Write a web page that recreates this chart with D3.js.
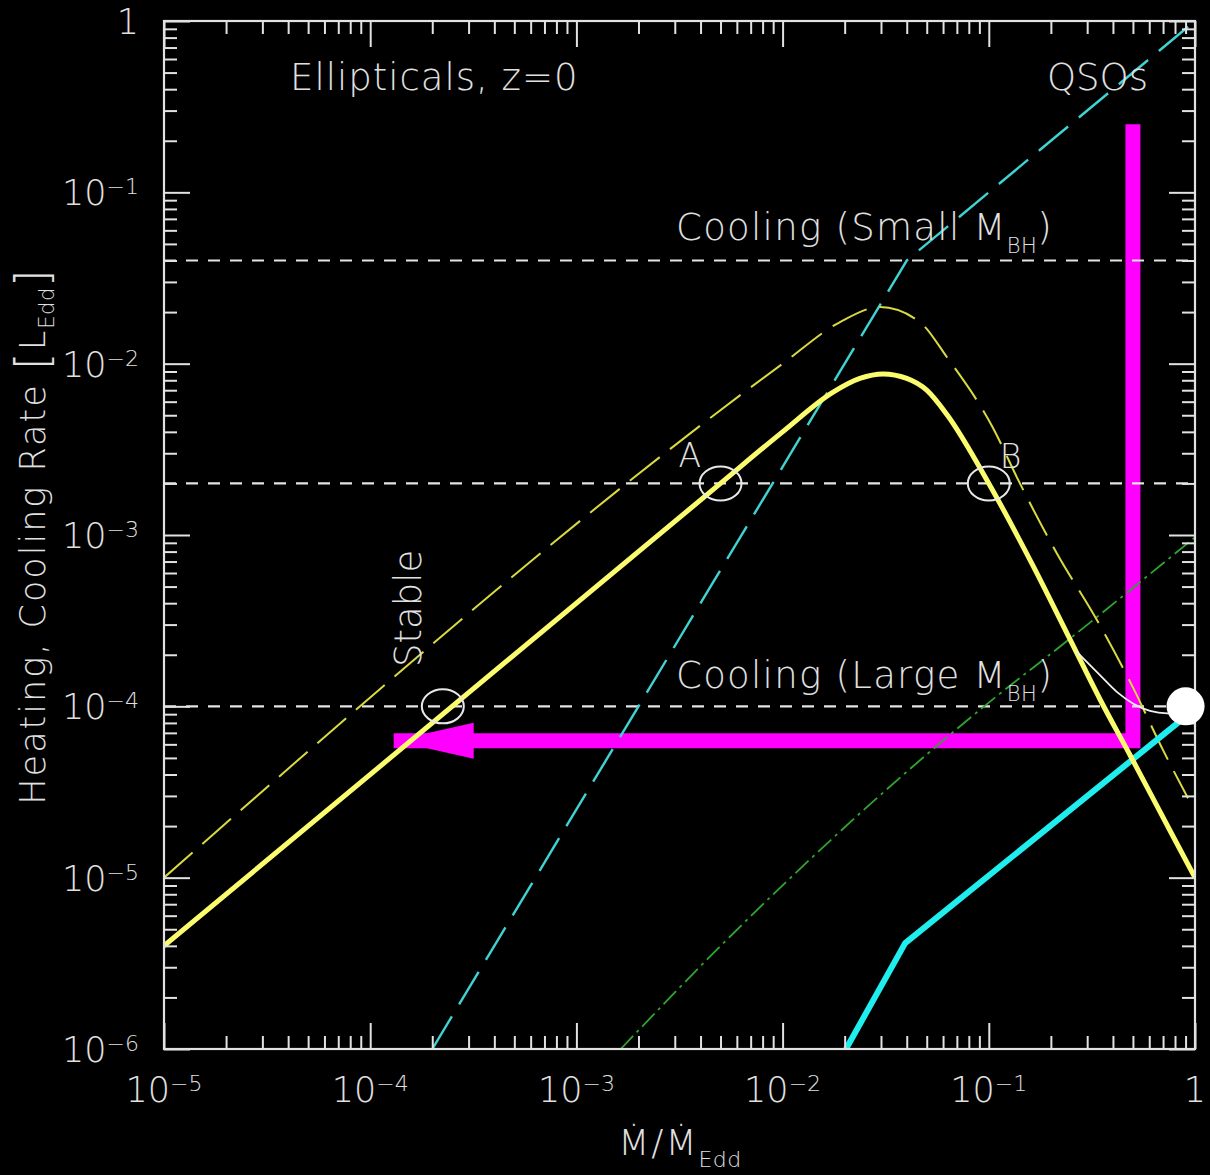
<!DOCTYPE html>
<html>
<head>
<meta charset="utf-8">
<script src="https://cdn.jsdelivr.net/npm/d3@7"></script>
<style>
  html, body { margin: 0; padding: 0; background: #000; }
  svg { display: block; background: #000; }
  text { font-family: "DejaVu Sans", sans-serif; font-weight: 200; fill: #e0e0e0; }
</style>
</head>
<body>
<svg id="chart" width="1210" height="1175"></svg>
<script>
// ---- tick labels (base, exponent) ----
const xTickValues = [1e-5, 1e-4, 1e-3, 1e-2, 1e-1, 1];
const xTickLabels = [["10", "−5"], ["10", "−4"], ["10", "−3"], ["10", "−2"], ["10", "−1"], ["1", ""]];
const yTickValues = [1e-6, 1e-5, 1e-4, 1e-3, 1e-2, 1e-1, 1];
const yTickLabels = [["10", "−6"], ["10", "−5"], ["10", "−4"], ["10", "−3"], ["10", "−2"], ["10", "−1"], ["1", ""]];

// ---- cooling rates (horizontal dashed levels) ----
const coolingLevels = [4e-2, 2e-3, 1e-4];

// ---- heating rate (thick solid yellow) ----
const heatingX = [1e-5, 5e-3, 1e-2, 1.75e-2, 2.37e-2, 3.07e-2, 4.0e-2, 5.0e-2, 6.3e-2, 0.1, 0.164, 0.248, 0.346, 0.484, 0.781, 1];
const heatingY = [4e-6, 2e-3, 4.0e-3, 6.8e-3, 8.2e-3, 8.7e-3, 8.2e-3, 7.0e-3, 5.0e-3, 2.0e-3, 6.6e-4, 2.45e-4, 1.1e-4, 5.2e-5, 1.75e-5, 1.0e-5];

// ---- maximal heating rate (thin dashed yellow) ----
const heatingMaxX = [1e-5, 1e-2, 1.9e-2, 2.97e-2, 4.63e-2, 6.27e-2, 0.105, 0.139, 0.214, 0.335, 0.5, 0.70, 0.925];
const heatingMaxY = [1e-5, 1e-2, 1.75e-2, 2.14e-2, 1.75e-2, 1.09e-2, 4.2e-3, 2.09e-3, 7.8e-4, 3.18e-4, 1.29e-4, 5.55e-5, 2.91e-5];

// ---- transition branch (thin white) ----
const branchX = [0.265, 0.346, 0.419, 0.5, 0.605, 0.732, 0.9];
const branchY = [2.1e-4, 1.52e-4, 1.21e-4, 1.04e-4, 9.4e-5, 9.1e-5, 9.3e-5];

// ---- QSO radiative output (dashed cyan) ----
const qsoX = [2e-4, 0.04, 1];
const qsoY = [1e-6, 0.04, 1];

// ---- thick cyan ----
const cyanX = [0.0203, 0.0393, 0.9];
const cyanY = [1e-6, 4.15e-6, 8.7e-5];

// ---- dash-dot green ----
const greenX = [1.64e-3, 4.8e-3, 0.094, 0.242, 1];
const greenY = [1e-6, 3.8e-6, 9.9e-5, 2.43e-4, 9.7e-4];

// ---- equilibrium markers ----
const markerX = [2.25e-4, 5e-3, 0.1];
const markerY = [1e-4, 2e-3, 2e-3];
const markerNames = ["", "A", "B"];

// ---- evolutionary track (magenta arrow) ----
const trackX = [0.5, 0.5, 1.3e-4];
const trackY = [0.25, 6.3e-5, 6.3e-5];

// ---- current state (white dot) ----
const stateX = [0.9];
const stateY = [1e-4];

// ================= drawing =================
const svg = d3.select("#chart");
const L = 164, R = 1195, T = 21, B = 1049;

const x = d3.scaleLog().domain([1e-5, 1]).range([L, R]);
const y = d3.scaleLog().domain([1e-6, 1]).range([B, T]);

const zip = (xs, ys) => xs.map((v, i) => [v, ys[i]]);
const line = d3.line().x(d => x(d[0])).y(d => y(d[1]));
const smooth = d3.line().x(d => x(d[0])).y(d => y(d[1])).curve(d3.curveMonotoneX);

svg.append("defs").append("clipPath").attr("id", "plot")
  .append("rect").attr("x", L).attr("y", T).attr("width", R - L).attr("height", B - T);

const plot = svg.append("g").attr("clip-path", "url(#plot)");

// magenta track sits beneath every curve
plot.append("path")
  .attr("d", line(zip(trackX, trackY)))
  .attr("fill", "none").attr("stroke", "#ff00ff").attr("stroke-width", 15)
  .attr("stroke-linejoin", "miter").attr("stroke-linecap", "butt");
{
  const tip = [x(trackX[2]), y(trackY[2])];
  const headLen = 80, headHalf = 18;
  plot.append("path")
    .attr("d", `M${tip[0]},${tip[1]}L${tip[0] + headLen},${tip[1] - headHalf}L${tip[0] + headLen},${tip[1] + headHalf}Z`)
    .attr("fill", "#ff00ff");
}

// cooling levels
plot.selectAll("line.cool").data(coolingLevels).join("line")
  .attr("class", "cool")
  .attr("x1", L).attr("x2", R)
  .attr("y1", d => y(d)).attr("y2", d => y(d))
  .attr("stroke", "#e4e4e4").attr("stroke-width", 2.2)
  .attr("stroke-dasharray", "12,10");

// green dash-dot
plot.append("path").attr("d", smooth(zip(greenX, greenY)))
  .attr("fill", "none").attr("stroke", "#2fa52f").attr("stroke-width", 1.8)
  .attr("stroke-dasharray", "18,5,3,5");

// dashed cyan
plot.append("path").attr("d", line(zip(qsoX, qsoY)))
  .attr("fill", "none").attr("stroke", "#3fd3d3").attr("stroke-width", 2.4)
  .attr("stroke-dasharray", "38,14");

// dashed yellow
plot.append("path").attr("d", smooth(zip(heatingMaxX, heatingMaxY)))
  .attr("fill", "none").attr("stroke", "#d9d940").attr("stroke-width", 2)
  .attr("stroke-dasharray", "38,13");

// thick cyan
plot.append("path").attr("d", line(zip(cyanX, cyanY)))
  .attr("fill", "none").attr("stroke", "#20eeee").attr("stroke-width", 6)
  .attr("stroke-linejoin", "round");

// thick yellow heating curve
plot.append("path").attr("d", smooth(zip(heatingX, heatingY)))
  .attr("fill", "none").attr("stroke", "#fbfb6e").attr("stroke-width", 5);

// white branch
plot.append("path").attr("d", smooth(zip(branchX, branchY)))
  .attr("fill", "none").attr("stroke", "#f0f0f0").attr("stroke-width", 1.8);

// equilibrium rings
plot.selectAll("ellipse.eq").data(zip(markerX, markerY)).join("ellipse")
  .attr("class", "eq")
  .attr("cx", d => x(d[0])).attr("cy", d => y(d[1]))
  .attr("rx", 21).attr("ry", 17)
  .attr("fill", "none").attr("stroke", "#e8e8e8").attr("stroke-width", 2);

// marker letters
const letterOffset = [[0, 0], [-42, -16], [11, -15]];
markerNames.forEach((n, i) => {
  if (!n) return;
  svg.append("text")
    .attr("x", x(markerX[i]) + letterOffset[i][0])
    .attr("y", y(markerY[i]) + letterOffset[i][1])
    .attr("font-size", 33).text(n);
});

// ---- frame and ticks ----
const tickColor = "#e2e2e2";
const majorX = xTickValues, majorY = yTickValues;
const minorX = x.ticks().filter(v => !majorX.some(m => Math.abs(m - v) / m < 1e-6));
const minorY = y.ticks().filter(v => !majorY.some(m => Math.abs(m - v) / m < 1e-6));

function axisLayer(axisFn, scale, vals, size, tx, ty) {
  const g = svg.append("g").attr("transform", `translate(${tx},${ty})`)
    .call(axisFn(scale).tickValues(vals).tickSize(-size).tickFormat(""));
  g.select(".domain").remove();
  g.selectAll(".tick line").attr("stroke", tickColor).attr("stroke-width", 2);
}
[[majorX, 26], [minorX, 13]].forEach(([v, s]) => {
  axisLayer(d3.axisBottom, x, v, s, 0, B);
  axisLayer(d3.axisTop, x, v, s, 0, T);
});
[[majorY, 26], [minorY, 13]].forEach(([v, s]) => {
  axisLayer(d3.axisLeft, y, v, s, L, 0);
  axisLayer(d3.axisRight, y, v, s, R, 0);
});

svg.append("rect").attr("x", L).attr("y", T).attr("width", R - L).attr("height", B - T)
  .attr("fill", "none").attr("stroke", tickColor).attr("stroke-width", 2.2);

// white dot, drawn over the frame
svg.selectAll("circle.state").data(zip(stateX, stateY)).join("circle")
  .attr("class", "state")
  .attr("cx", d => x(d[0])).attr("cy", d => y(d[1])).attr("r", 19)
  .attr("fill", "#ffffff");

// tick labels
xTickValues.forEach((v, i) => {
  const t = svg.append("text").attr("x", x(v)).attr("y", 1102)
    .attr("text-anchor", "middle").attr("font-size", 35);
  t.append("tspan").text(xTickLabels[i][0]);
  if (xTickLabels[i][1]) t.append("tspan").attr("dy", -11).attr("font-size", 22).text(xTickLabels[i][1]);
});
yTickValues.forEach((v, i) => {
  const t = svg.append("text").attr("x", 139).attr("y", y(v) + 13)
    .attr("text-anchor", "end").attr("font-size", 35);
  t.append("tspan").text(yTickLabels[i][0]);
  if (yTickLabels[i][1]) t.append("tspan").attr("dy", -11).attr("font-size", 22).text(yTickLabels[i][1]);
});

// ---- annotations ----
svg.append("text").attr("x", 290).attr("y", 90).attr("font-size", 37)
  .attr("letter-spacing", 1).text("Ellipticals, z=0");
svg.append("text").attr("x", 1047).attr("y", 90).attr("font-size", 37).text("QSOs");

function coolingLabel(yb, word) {
  const t = svg.append("text").attr("x", 676).attr("y", yb).attr("font-size", 37)
    .attr("letter-spacing", 1.3);
  t.append("tspan").text(`Cooling (${word} M`);
  t.append("tspan").attr("dy", 13).attr("font-size", 21).attr("letter-spacing", 0.5).text("BH");
  t.append("tspan").attr("dy", -13).text(")");
}
coolingLabel(240, "Small");
coolingLabel(688, "Large");

svg.append("text").attr("transform", "translate(421,667) rotate(-90)")
  .attr("font-size", 37).text("Stable");

// axis titles
{
  const t = svg.append("text").attr("transform", "translate(45,536) rotate(-90)")
    .attr("text-anchor", "middle").attr("font-size", 35).attr("letter-spacing", 2);
  t.append("tspan").text("Heating, Cooling Rate ");
  t.append("tspan").attr("font-size", 46).attr("dy", 3).text("[");
  t.append("tspan").attr("dy", -3).text("L");
  t.append("tspan").attr("font-size", 21).attr("dy", 9).attr("letter-spacing", 0.5).text("Edd");
  t.append("tspan").attr("font-size", 46).attr("dy", -6).text("]");
}
{
  const t = svg.append("text").attr("x", 680).attr("y", 1155)
    .attr("text-anchor", "middle").attr("font-size", 36).attr("letter-spacing", 2);
  t.append("tspan").text("M\u0307/M\u0307");
  t.append("tspan").attr("font-size", 22).attr("dy", 12).attr("letter-spacing", 0.5).text("Edd");
}
</script>
</body>
</html>
